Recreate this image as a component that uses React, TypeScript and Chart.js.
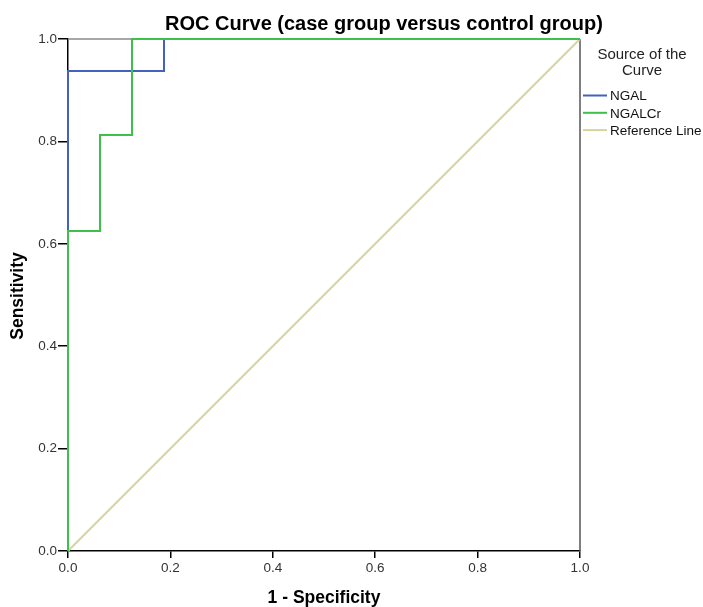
import React, { useEffect, useRef } from "react";
import { Chart, registerables } from "chart.js";

Chart.register(...registerables);

const TITLE = "ROC Curve (case group versus control group)";
const X_LABEL = "1 - Specificity";
const Y_LABEL = "Sensitivity";
const LEGEND_TITLE = ["Source of the", "Curve"];
const SERIES_NAMES = ["NGAL", "NGALCr", "Reference Line"];
const SERIES_COLORS = ["#4461bd", "#3fc04a", "#d6d39e"];

const NGAL_X = [0, 0, 0.1875, 0.1875, 1];
const NGAL_Y = [0, 0.9375, 0.9375, 1, 1];
const NGALCR_X = [0, 0, 0.0625, 0.0625, 0.125, 0.125, 1];
const NGALCR_Y = [0, 0.625, 0.625, 0.8125, 0.8125, 1, 1];
const REF_X = [0, 1];
const REF_Y = [0, 1];
const TICKS = [0, 0.2, 0.4, 0.6, 0.8, 1.0];

const FONT = "'Liberation Sans', Arial, sans-serif";
const pts = (xs: number[], ys: number[]) => xs.map((x, i) => ({ x, y: ys[i] }));

const overlay = {
  id: "overlay",
  beforeDatasetsDraw(chart: any) {
    const { ctx, chartArea: a } = chart;
    ctx.save();
    ctx.lineWidth = 1.5;
    ctx.strokeStyle = "#8a8a8a";
    ctx.beginPath();
    ctx.moveTo(a.left, a.top);
    ctx.lineTo(a.right, a.top);
    ctx.stroke();
    ctx.strokeStyle = "#555";
    ctx.beginPath();
    ctx.moveTo(a.right, a.top);
    ctx.lineTo(a.right, a.bottom);
    ctx.stroke();
    ctx.restore();
  },
  afterDraw(chart: any) {
    const { ctx, chartArea: a } = chart;
    ctx.save();
    ctx.fillStyle = "#000";
    ctx.textBaseline = "middle";
    ctx.textAlign = "center";
    ctx.font = `bold 20px ${FONT}`;
    ctx.fillText(TITLE, 384, 24);
    ctx.font = `bold 17.5px ${FONT}`;
    ctx.fillText(X_LABEL, (a.left + a.right) / 2, 598);
    ctx.save();
    ctx.translate(18, 296);
    ctx.rotate(-Math.PI / 2);
    ctx.fillText(Y_LABEL, 0, 0);
    ctx.restore();
    ctx.font = `15px ${FONT}`;
    ctx.fillStyle = "#222";
    ctx.fillText(LEGEND_TITLE[0], 642, 55);
    ctx.fillText(LEGEND_TITLE[1], 642, 71);
    ctx.textAlign = "left";
    ctx.font = `13.5px ${FONT}`;
    SERIES_NAMES.forEach((n, i) => {
      const y = 95.5 + i * 17.3;
      ctx.strokeStyle = SERIES_COLORS[i];
      ctx.lineWidth = 2;
      ctx.beginPath();
      ctx.moveTo(583, y);
      ctx.lineTo(607, y);
      ctx.stroke();
      ctx.fillStyle = "#111";
      ctx.fillText(n, 610, y + 1);
    });
    ctx.restore();
  },
};

export default function App() {
  const ref = useRef<HTMLCanvasElement>(null);
  useEffect(() => {
    document.body.style.margin = "0";
    const common = { borderWidth: 2, showLine: true, pointRadius: 0, clip: 6 };
    const chart = new Chart(ref.current!, {
      type: "scatter",
      data: {
        datasets: [
          { ...common, label: SERIES_NAMES[2], data: pts(REF_X, REF_Y), borderColor: SERIES_COLORS[2], order: 3 },
          { ...common, label: SERIES_NAMES[0], data: pts(NGAL_X, NGAL_Y), borderColor: SERIES_COLORS[0], order: 2 },
          { ...common, label: SERIES_NAMES[1], data: pts(NGALCR_X, NGALCR_Y), borderColor: SERIES_COLORS[1], order: 1 },
        ],
      },
      options: {
        animation: false,
        responsive: false,
        layout: { padding: { left: 0, right: 123, top: 39, bottom: 0 } },
        plugins: { legend: { display: false }, title: { display: false }, tooltip: { enabled: false } },
        scales: {
          x: {
            type: "linear",
            min: 0,
            max: 1,
            afterFit: (s: any) => { s.height = 56; },
            afterBuildTicks: (s: any) => { s.ticks = TICKS.map((v) => ({ value: v })); },
            border: { color: "#000", width: 1.5 },
            grid: { drawOnChartArea: false, drawTicks: true, tickLength: 7, color: "#000", lineWidth: 1.5 },
            ticks: { padding: 2, color: "#333", font: { family: FONT, size: 13.5 }, callback: (v: any) => Number(v).toFixed(1), maxRotation: 0 },
          },
          y: {
            type: "linear",
            min: 0,
            max: 1,
            afterFit: (s: any) => { s.width = 68; },
            afterBuildTicks: (s: any) => { s.ticks = TICKS.map((v) => ({ value: v })); },
            border: { color: "#000", width: 1.5 },
            grid: { drawOnChartArea: false, drawTicks: true, tickLength: 10, color: "#000", lineWidth: 1.5 },
            ticks: { padding: 1, color: "#333", font: { family: FONT, size: 13.5 }, callback: (v: any) => Number(v).toFixed(1) },
          },
        },
      },
      plugins: [overlay],
    });
    return () => chart.destroy();
  }, []);
  return <canvas ref={ref} width={703} height={607} style={{ display: "block" }} />;
}
